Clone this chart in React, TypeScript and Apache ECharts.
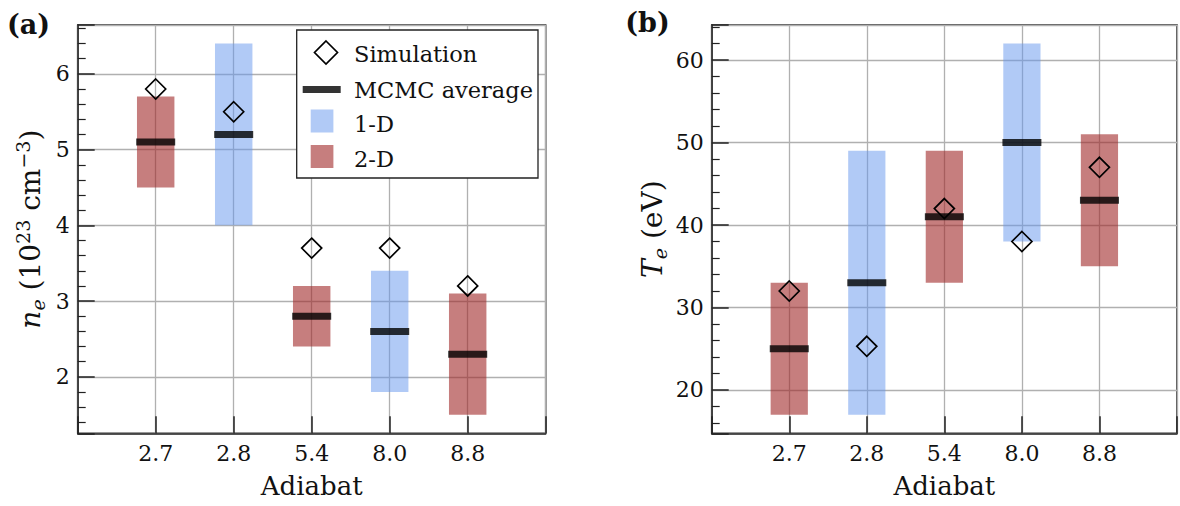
import React, { useEffect, useRef } from 'react';
import * as echarts from 'echarts';

// Adiabat cases and the model dimension used for each case
const adiabat = ['2.7', '2.8', '5.4', '8.0', '8.8'];
const model = ['2-D', '1-D', '2-D', '1-D', '2-D'];

// Electron density n_e (10^23 cm^-3)
const neLow = [4.5, 4.0, 2.4, 1.8, 1.5];
const neHigh = [5.7, 6.4, 3.2, 3.4, 3.1];
const neAvg = [5.1, 5.2, 2.8, 2.6, 2.3];
const neSim = [5.8, 5.5, 3.7, 3.7, 3.2];

// Electron temperature T_e (eV)
const teLow = [17, 17, 33, 38, 35];
const teHigh = [33, 49, 49, 62, 51];
const teAvg = [25, 33, 41, 50, 43];
const teSim = [32, 25.3, 42, 38, 47];

const FONT = 'DejaVu Serif';
const INK = '#111';
const AXIS = '#222';
const GRIDLINE = '#b0b0b0';
const BLUE = 'rgba(100,149,237,0.5)';
const RED = 'rgba(160,40,40,0.6)';
const AVG = 'rgba(0,0,0,0.8)';
const BAR_W = 0.48;

function padded(lo: number[], hi: number[]): [number, number] {
  const a = Math.min(...lo);
  const b = Math.max(...hi);
  const m = (b - a) * 0.05;
  return [a - m, b + m];
}

function rangeSeries(name: string, gridIdx: number, lo: number[], hi: number[], color: string) {
  const data: number[][] = [];
  model.forEach((m, i) => {
    if (m === name) data.push([i, lo[i], hi[i]]);
  });
  return {
    type: 'custom',
    name,
    xAxisIndex: gridIdx,
    yAxisIndex: gridIdx,
    z: 2,
    encode: { x: 0, y: [1, 2] },
    data,
    renderItem: (params: any, api: any) => {
      const x = api.value(0);
      const top = api.coord([x, api.value(2)]);
      const bot = api.coord([x, api.value(1)]);
      const w = api.size([BAR_W, 0])[0];
      return {
        type: 'rect',
        shape: { x: top[0] - w / 2, y: top[1], width: w, height: bot[1] - top[1] },
        style: { fill: color },
      };
    },
  };
}

function avgSeries(gridIdx: number, vals: number[]) {
  return {
    type: 'scatter',
    name: 'MCMC average',
    xAxisIndex: gridIdx,
    yAxisIndex: gridIdx,
    z: 3,
    symbol: 'rect',
    symbolSize: [39, 7],
    itemStyle: { color: AVG, opacity: 1 },
    data: vals.map((v, i) => [i, v]),
  };
}

function simSeries(gridIdx: number, vals: number[]) {
  return {
    type: 'scatter',
    name: 'Simulation',
    xAxisIndex: gridIdx,
    yAxisIndex: gridIdx,
    z: 4,
    symbol: 'diamond',
    symbolSize: 20,
    itemStyle: { color: 'rgba(0,0,0,0)', borderColor: '#000', borderWidth: 1.7, opacity: 1 },
    data: vals.map((v, i) => [i, v]),
  };
}

function xAxis(gridIdx: number) {
  return {
    type: 'value',
    gridIndex: gridIdx,
    min: -1,
    max: 5,
    interval: 1,
    name: 'Adiabat',
    nameLocation: 'middle',
    nameGap: 40,
    nameTextStyle: { fontFamily: FONT, fontSize: 26, color: INK },
    axisLine: { show: true, onZero: false, lineStyle: { color: AXIS, width: 1.5 } },
    axisTick: { show: true, inside: true, length: 17, lineStyle: { color: AXIS, width: 1.5 } },
    axisLabel: {
      fontFamily: FONT,
      fontSize: 22,
      color: INK,
      margin: 9,
      formatter: (v: number) => adiabat[v] ?? '',
    },
    splitLine: { show: true, lineStyle: { color: GRIDLINE, width: 1.3 } },
  };
}

const richBase = {
  t: { fontFamily: FONT, fontSize: 28, lineHeight: 34, color: INK, verticalAlign: 'middle' },
  i: { fontFamily: FONT, fontSize: 28, lineHeight: 34, color: INK, fontStyle: 'italic', verticalAlign: 'middle' },
  sub: { fontFamily: FONT, fontSize: 19, lineHeight: 19, color: INK, fontStyle: 'italic', verticalAlign: 'bottom' },
  sup: { fontFamily: FONT, fontSize: 19, lineHeight: 19, color: INK, verticalAlign: 'top' },
};

function yAxis(gridIdx: number, ext: [number, number], name: string, gap: number) {
  return {
    type: 'value',
    gridIndex: gridIdx,
    min: ext[0],
    max: ext[1],
    splitNumber: 5,
    name,
    nameLocation: 'middle',
    nameRotate: 90,
    nameGap: gap,
    nameTextStyle: { rich: richBase },
    axisLine: { show: true, onZero: false, lineStyle: { color: AXIS, width: 1.5 } },
    axisTick: { show: true, inside: true, length: 17, lineStyle: { color: AXIS, width: 1.5 } },
    minorTick: { show: true, splitNumber: 5, length: 8, lineStyle: { color: AXIS, width: 1.2 } },
    axisLabel: {
      fontFamily: FONT,
      fontSize: 22,
      color: INK,
      margin: 8,
      showMinLabel: false,
      showMaxLabel: false,
    },
    splitLine: { show: true, lineStyle: { color: GRIDLINE, width: 1.3 } },
  };
}

function legendGraphics() {
  const tx = 354;
  const text = (label: string, y: number) => ({
    type: 'text',
    x: tx,
    y,
    style: { text: label, fontFamily: FONT, fontSize: 22.5, fill: INK, verticalAlign: 'middle', align: 'left' },
    z: 100,
  });
  return [
    {
      type: 'rect',
      shape: { x: 296.7, y: 30, width: 241.3, height: 148 },
      style: { fill: '#fff', stroke: AXIS, lineWidth: 1.3 },
      z: 99,
    },
    {
      type: 'polygon',
      shape: { points: [[326, 41], [337.5, 52.5], [326, 64], [314.5, 52.5]] },
      style: { fill: 'none', stroke: '#000', lineWidth: 1.7 },
      z: 100,
    },
    {
      type: 'rect',
      shape: { x: 302.7, y: 86, width: 38, height: 7 },
      style: { fill: AVG },
      z: 100,
    },
    {
      type: 'rect',
      shape: { x: 310.7, y: 109.5, width: 22.7, height: 23 },
      style: { fill: BLUE },
      z: 100,
    },
    {
      type: 'rect',
      shape: { x: 310.7, y: 145, width: 22.7, height: 23 },
      style: { fill: RED },
      z: 100,
    },
    text('Simulation', 53.5),
    text('MCMC average', 90.2),
    text('1-D', 123.6),
    text('2-D', 158.6),
  ];
}

export default function App() {
  const ref = useRef<HTMLDivElement>(null);

  useEffect(() => {
    if (!ref.current) return;
    const chart = echarts.init(ref.current, undefined, { renderer: 'svg' });
    const neExt = padded([...neLow, ...neSim], [...neHigh, ...neSim]);
    const teExt = padded([...teLow, ...teSim], [...teHigh, ...teSim]);

    chart.setOption({
      animation: false,
      backgroundColor: '#fff',
      textStyle: { fontFamily: FONT },
      grid: [
        { left: 77.7, top: 25, width: 468, height: 408.3, show: true, borderColor: AXIS, borderWidth: 1.5, backgroundColor: 'transparent' },
        { left: 711.7, top: 25, width: 468, height: 408.3, show: true, borderColor: AXIS, borderWidth: 1.5, backgroundColor: 'transparent' },
      ],
      xAxis: [xAxis(0), xAxis(1)],
      yAxis: [
        yAxis(0, neExt, '{i|n}{sub|e}{t| (10}{sup|23}{t| cm}{sup|−3}{t|)}', 30),
        yAxis(1, teExt, '{i|T}{sub|e}{t| (eV)}', 42),
      ],
      series: [
        rangeSeries('1-D', 0, neLow, neHigh, BLUE),
        rangeSeries('2-D', 0, neLow, neHigh, RED),
        avgSeries(0, neAvg),
        simSeries(0, neSim),
        rangeSeries('1-D', 1, teLow, teHigh, BLUE),
        rangeSeries('2-D', 1, teLow, teHigh, RED),
        avgSeries(1, teAvg),
        simSeries(1, teSim),
      ],
      graphic: [
        {
          type: 'text',
          x: 28.5,
          y: 24.5,
          style: { text: '(a)', fontFamily: FONT, fontSize: 27, fontWeight: 'bold', fill: INK, align: 'center', verticalAlign: 'middle' },
        },
        {
          type: 'text',
          x: 647.5,
          y: 22.5,
          style: { text: '(b)', fontFamily: FONT, fontSize: 27, fontWeight: 'bold', fill: INK, align: 'center', verticalAlign: 'middle' },
        },
        ...legendGraphics(),
      ],
    });

    return () => chart.dispose();
  }, []);

  return (
    <div
      ref={ref}
      style={{ position: 'fixed', left: 0, top: 0, width: 1180, height: 506, background: '#fff' }}
    />
  );
}
